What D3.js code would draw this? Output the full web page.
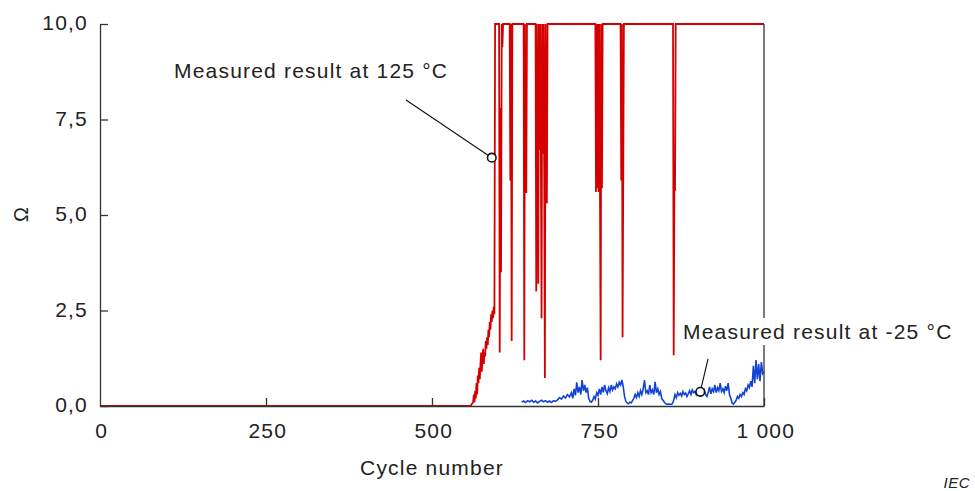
<!DOCTYPE html>
<html>
<head>
<meta charset="utf-8">
<script src="https://cdn.jsdelivr.net/npm/d3@7"></script>
<style>
    body { margin: 0; background: #fff; }
    #chart { width: 975px; height: 491px; }
    text { font-family: "Liberation Sans", Arial, sans-serif; fill: #222; letter-spacing: 1.2px; }
</style>
</head>
<body>
<div id="chart"></div>
<script>
// 125 °C measurement: [cycle, ohm]
const hot125 = [
    [0, 0], [558, 0], [560, 0.05], [562, 0.1], [563, 0.3], [564, 0.1], [565, 0.4], [566, 0.2],
    [567, 0.6], [568, 0.3], [569, 0.8], [570, 0.6], [571, 1.0], [572, 0.7], [573, 1.1], [574, 1.4],
    [575, 0.9], [576, 1.2], [577, 1.5], [578, 1.1], [579, 1.4], [580, 1.3], [581, 1.7], [582, 1.5],
    [583, 1.8], [584, 1.6], [585, 2.0], [586, 1.8], [587, 2.2], [588, 2.0], [589, 2.4], [590, 2.2],
    [591, 2.5], [592, 2.3], [593, 2.6], [594, 2.4], [595, 10],
    [601, 10], [602, 1.4], [603, 7.8], [604, 3.5], [605, 10], [606, 9.4], [607, 10],
    [617, 10], [618, 5.9], [619, 10], [620, 1.7], [621, 10],
    [638, 10], [639, 1.2], [640, 10], [641, 5.6], [642, 5.6], [643, 10],
    [656, 10], [657, 3.0], [658, 10], [660, 3.2], [661, 10], [662, 6.7], [663, 10], [664, 6.5],
    [665, 2.3], [666, 10], [667, 6.6], [668, 10], [669, 6.2], [670, 0.73], [671, 10], [672, 6.4],
    [673, 5.3], [674, 10],
    [746, 10], [747, 5.6], [748, 10], [749, 5.7], [750, 10], [751, 5.6], [752, 10], [753, 5.6],
    [754, 1.2], [755, 10], [756, 5.7], [757, 10],
    [784, 10], [785, 5.9], [786, 10], [787, 1.8], [788, 5.9], [789, 10],
    [863, 10], [864, 1.33], [865, 5.65], [866, 5.65], [867, 10],
    [1000, 10]
];

// -25 °C measurement: [cycle, ohm]
const cold25 = [
    [635, 0.10], [638, 0.13], [641, 0.09], [644, 0.14], [647, 0.11], [650, 0.15], [653, 0.10],
    [656, 0.13], [659, 0.08], [662, 0.12], [665, 0.15], [668, 0.11], [671, 0.14], [674, 0.10],
    [677, 0.13], [680, 0.09], [683, 0.14], [686, 0.12], [689, 0.16], [692, 0.22], [695, 0.18],
    [698, 0.26], [701, 0.21], [704, 0.30], [707, 0.24], [710, 0.35],
    [712, 0.20], [714, 0.45], [716, 0.28], [718, 0.62], [720, 0.35], [722, 0.50], [724, 0.30],
    [726, 0.68], [728, 0.40], [730, 0.55], [732, 0.35], [734, 0.48], [736, 0.20], [738, 0.12],
    [740, 0.10], [742, 0.15], [744, 0.25], [746, 0.18], [748, 0.35], [750, 0.28], [752, 0.45],
    [754, 0.30], [756, 0.50], [758, 0.36], [760, 0.55], [762, 0.40], [764, 0.32], [766, 0.48],
    [768, 0.38], [770, 0.55], [772, 0.42], [774, 0.50], [776, 0.45], [778, 0.58], [780, 0.50],
    [782, 0.62], [784, 0.55], [786, 0.68], [788, 0.50], [790, 0.25], [792, 0.12], [794, 0.08],
    [796, 0.06], [798, 0.10], [800, 0.08], [802, 0.14], [804, 0.20], [806, 0.30], [808, 0.22],
    [810, 0.35], [812, 0.25], [814, 0.40], [816, 0.30], [818, 0.45], [820, 0.68], [822, 0.35],
    [824, 0.40], [826, 0.30], [828, 0.55], [830, 0.35], [832, 0.42], [834, 0.30], [836, 0.63],
    [838, 0.35], [840, 0.45], [842, 0.30], [844, 0.38], [846, 0.20], [848, 0.15], [850, 0.10],
    [852, 0.06], [854, 0.04], [856, 0.05], [858, 0.05], [860, 0.04], [862, 0.06], [864, 0.15],
    [866, 0.30], [868, 0.22], [870, 0.35], [872, 0.28], [874, 0.33], [876, 0.26], [878, 0.38],
    [880, 0.30], [882, 0.34], [884, 0.25], [886, 0.32], [888, 0.40], [890, 0.30], [892, 0.42],
    [894, 0.35], [896, 0.38], [898, 0.30], [900, 0.40], [902, 0.33], [904, 0.37], [906, 0.28],
    [908, 0.35], [910, 0.42], [912, 0.30], [914, 0.25], [916, 0.35], [918, 0.50], [920, 0.32],
    [922, 0.45], [924, 0.38], [926, 0.55], [928, 0.35], [930, 0.48], [932, 0.40], [934, 0.60],
    [936, 0.38], [938, 0.45], [940, 0.35], [942, 0.52], [944, 0.40], [946, 0.60], [948, 0.30],
    [950, 0.20], [952, 0.08], [954, 0.05], [956, 0.10], [958, 0.15], [960, 0.25], [962, 0.20],
    [964, 0.30], [966, 0.25], [968, 0.35], [970, 0.30], [972, 0.45], [974, 0.40], [976, 0.55],
    [978, 0.48], [980, 0.65], [982, 0.50], [984, 1.05], [986, 0.60], [988, 1.20], [990, 0.70],
    [992, 1.10], [994, 0.65], [996, 1.15], [998, 0.85], [1000, 0.90]
];

const xTicks = [0, 250, 500, 750, 1000];
const xTickLabels = ["0", "250", "500", "750", "1 000"];
const yTicks = [0, 2.5, 5, 7.5, 10];

// annotation anchors [cycle, ohm]
const notes = [
    { text: "Measured result at 125 °C", point: [590, 6.5] },
    { text: "Measured result at -25 °C", point: [904, 0.37] }
];

class ResistanceVis {
    constructor(parentElement) {
        this.parentElement = parentElement;
        this.initVis();
    }

    initVis() {
        let vis = this;

        vis.margin = { top: 24, right: 211, bottom: 85, left: 100 };
        vis.width = 975 - vis.margin.left - vis.margin.right;
        vis.height = 491 - vis.margin.top - vis.margin.bottom;

        vis.root = d3.select("#" + vis.parentElement).append("svg")
            .attr("width", 975)
            .attr("height", 491);

        vis.svg = vis.root.append("g")
            .attr("transform", "translate(" + vis.margin.left + "," + vis.margin.top + ")");

        vis.x = d3.scaleLinear().domain([0, 1000]).range([0, vis.width]);
        vis.y = d3.scaleLinear().domain([0, 10]).range([vis.height, 0]);

        let line = d3.line()
            .x(d => vis.x(d[0]))
            .y(d => vis.y(d[1]));

        // data lines
        vis.svg.append("path")
            .datum(cold25)
            .attr("fill", "none")
            .attr("stroke", "#1243d4")
            .attr("stroke-width", 1.6)
            .attr("d", line);

        vis.svg.append("path")
            .datum(hot125)
            .attr("fill", "none")
            .attr("stroke", "#d40000")
            .attr("stroke-width", 1.8)
            .attr("d", line);

        // axes, ticks pointing inwards
        let xAxis = d3.axisBottom(vis.x)
            .tickValues(xTicks)
            .tickFormat((d, i) => xTickLabels[i])
            .tickSizeInner(-8)
            .tickSizeOuter(0)
            .tickPadding(17);

        let yAxis = d3.axisLeft(vis.y)
            .tickValues(yTicks)
            .tickFormat(d => d3.format(".1f")(d).replace(".", ","))
            .tickSizeInner(-8)
            .tickSizeOuter(0)
            .tickPadding(12);

        let gx = vis.svg.append("g")
            .attr("transform", "translate(0," + vis.height + ")")
            .call(xAxis);

        let gy = vis.svg.append("g").call(yAxis);

        // right frame line
        vis.svg.append("line")
            .attr("x1", vis.x(1000)).attr("x2", vis.x(1000))
            .attr("y1", 0).attr("y2", vis.height)
            .attr("stroke", "#333").attr("stroke-width", 1.3);

        [gx, gy].forEach(g => {
            g.select(".domain").attr("stroke", "#333").attr("stroke-width", 1.3);
            g.selectAll(".tick line").attr("stroke", "#333").attr("stroke-width", 1.3);
            g.selectAll("text").attr("font-size", 21).attr("fill", "#222")
                .attr("font-family", "Liberation Sans, Arial, sans-serif");
        });
        gy.selectAll("text").attr("dy", "0.28em");
        gx.selectAll("text").attr("dx", "0.06em");
        gx.select(".tick:first-of-type line").remove();

        // axis titles
        vis.root.append("text")
            .attr("x", vis.margin.left + vis.x(500))
            .attr("y", 475)
            .attr("text-anchor", "middle")
            .attr("font-size", 21)
            .text("Cycle number");

        vis.root.append("text")
            .attr("transform", "translate(28,214) rotate(-90)")
            .attr("text-anchor", "middle")
            .attr("font-size", 20)
            .text("Ω");

        vis.root.append("text")
            .attr("x", 970)
            .attr("y", 488)
            .attr("text-anchor", "end")
            .attr("font-size", 15)
            .attr("font-style", "italic")
            .style("letter-spacing", "0.5px")
            .text("IEC");

        // annotations
        let labelPos = [[174, 78], [683, 339]];
        let leaderStart = [[406, 100], [708, 359]];

        notes.forEach((n, i) => {
            let px = vis.margin.left + vis.x(n.point[0]);
            let py = vis.margin.top + vis.y(n.point[1]);

            let bg = vis.root.append("rect").attr("fill", "#fff");
            let t = vis.root.append("text")
                .attr("x", labelPos[i][0])
                .attr("y", labelPos[i][1])
                .attr("font-size", 21)
                .text(n.text);
            let bb = t.node().getBBox();
            bg.attr("x", bb.x - 3).attr("y", bb.y - 2)
                .attr("width", bb.width + 6).attr("height", bb.height + 4);

            vis.root.append("line")
                .attr("x1", leaderStart[i][0]).attr("y1", leaderStart[i][1])
                .attr("x2", px).attr("y2", py)
                .attr("stroke", "#111").attr("stroke-width", 1.1);

            vis.root.append("circle")
                .attr("cx", px).attr("cy", py).attr("r", 4.3)
                .attr("fill", "#fff")
                .attr("stroke", "#111")
                .attr("stroke-width", 1.6);
        });
    }
}

new ResistanceVis("chart");
</script>
</body>
</html>
